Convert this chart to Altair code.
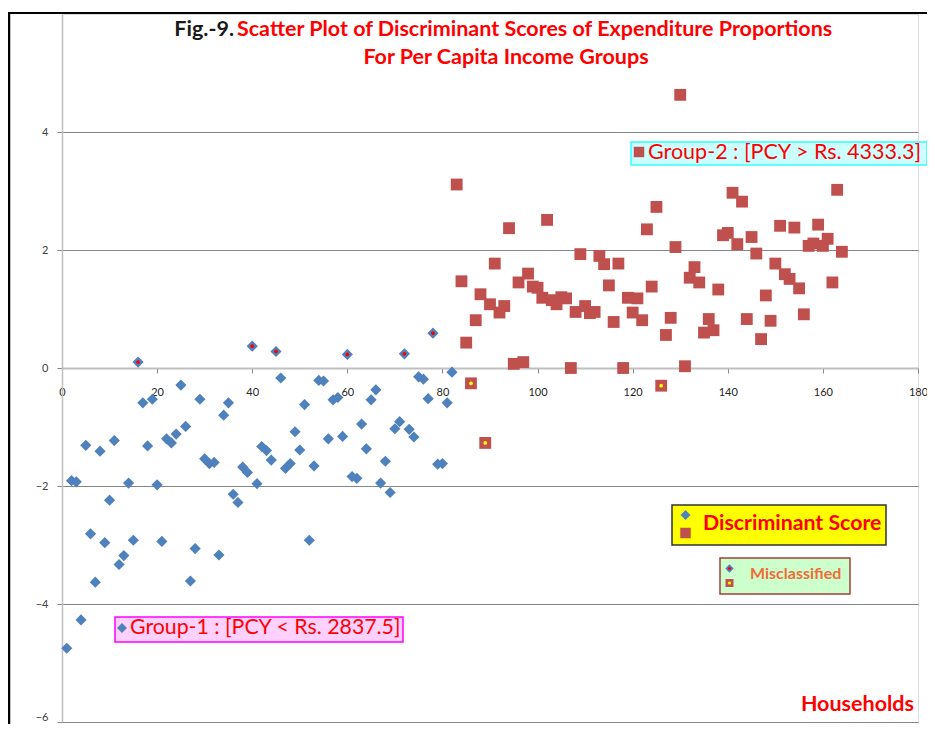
import altair as alt
import pandas as pd

# ---- data ----
g1_x = [1, 2, 3, 4, 5, 6, 7, 8, 9, 10, 11, 12, 13, 14, 15, 16, 17, 18, 19, 20,
        21, 22, 23, 24, 25, 26, 27, 28, 29, 30, 31, 32, 33, 34, 35, 36, 37, 38, 39, 40,
        41, 42, 43, 44, 45, 46, 47, 48, 49, 50, 51, 52, 53, 54, 55, 56, 57, 58, 59, 60,
        61, 62, 63, 64, 65, 66, 67, 68, 69, 70, 71, 72, 73, 74, 75, 76, 77, 78, 79, 80,
        81, 82]
g1_y = [-4.75, -1.91, -1.93, -4.27, -1.31, -2.81, -3.63, -1.41, -2.96, -2.24,
        -1.23, -3.33, -3.18, -1.95, -2.92, 0.10, -0.59, -1.32, -0.53, -1.98,
        -2.94, -1.20, -1.27, -1.12, -0.29, -0.99, -3.61, -3.06, -0.53, -1.54,
        -1.62, -1.60, -3.17, -0.80, -0.59, -2.14, -2.28, -1.68, -1.77, 0.37,
        -1.96, -1.33, -1.40, -1.56, 0.28, -0.17, -1.70, -1.62, -1.08, -1.39,
        -0.62, -2.92, -1.66, -0.21, -0.22, -1.20, -0.54, -0.50, -1.16, 0.23,
        -1.84, -1.87, -0.95, -1.37, -0.54, -0.37, -1.95, -1.58, -2.11, -1.03,
        -0.91, 0.24, -1.04, -1.17, -0.15, -0.19, -0.52, 0.59, -1.63, -1.62,
        -0.59, -0.07]

g2_x = [83, 84, 85, 86, 87, 88, 89, 90, 91, 92, 93, 94, 95, 96, 97, 98, 99, 100,
        101, 102, 103, 104, 105, 106, 107, 108, 109, 110, 111, 112, 113, 114, 115,
        116, 117, 118, 119, 120, 121, 122, 123, 124, 125, 126, 127, 128, 129, 130,
        131, 132, 133, 134, 135, 136, 137, 138, 139, 140, 141, 142, 143, 144, 145,
        146, 147, 148, 149, 150, 151, 152, 153, 154, 155, 156, 157, 158, 159, 160,
        161, 162, 163, 164]
g2_y = [3.11, 1.47, 0.43, -0.26, 0.81, 1.25, -1.27, 1.08, 1.77, 0.94,
        1.05, 2.37, 0.07, 1.45, 0.10, 1.60, 1.38, 1.36, 1.19, 2.51,
        1.15, 1.08, 1.20, 1.18, 0.00, 0.95, 1.93, 1.05, 0.93, 0.95,
        1.90, 1.76, 1.40, 0.78, 1.77, 0.00, 1.19, 0.94, 1.18, 0.81,
        2.35, 1.38, 2.73, -0.30, 0.56, 0.85, 2.05, 4.63, 0.03, 1.53,
        1.71, 1.45, 0.60, 0.83, 0.64, 1.33, 2.25, 2.29, 2.97, 2.10,
        2.82, 0.83, 2.22, 1.94, 0.49, 1.23, 0.80, 1.77, 2.41, 1.59,
        1.51, 2.38, 1.35, 0.91, 2.07, 2.11, 2.43, 2.07, 2.19, 1.45,
        3.02, 1.97]

mis1_x = [16, 40, 45, 60, 72, 78]
mis2_x = [86, 89, 126]

x_ticks = [0, 20, 40, 60, 80, 100, 120, 140, 160, 180]
y_ticks = [-6, -4, -2, 0, 2, 4]

title_fig = "Fig.-9."
title_l1 = "Scatter Plot of Discriminant Scores of Expenditure Proportions"
title_l2 = "For Per Capita Income Groups"
label_g1 = "Group-1 : [PCY < Rs. 2837.5]"
label_g2 = "Group-2 : [PCY > Rs. 4333.3]"
label_ds = "Discriminant Score"
label_mis = "Misclassified"
label_x = "Households"

# ---- tables ----
df1 = pd.DataFrame({"x": g1_x, "y": g1_y})
df2 = pd.DataFrame({"x": g2_x, "y": g2_y})
dm1 = df1[df1["x"].isin(mis1_x)]
dm2 = df2[df2["x"].isin(mis2_x)]
one = pd.DataFrame({"a": [0]})

BLUE = "#4F81BD"
RED = "#C0504D"
FONT = "Lato"

W, H = 856, 708

xenc = alt.X("x:Q", scale=alt.Scale(domain=[0, 180], nice=False, zero=False),
             axis=alt.Axis(values=x_ticks, grid=False, offset=-354, title="",
                           domainColor="#BFBFBF", domainWidth=2, labelFlush=False,
                           tickColor="#868686", tickSize=5, labelPadding=13,
                           labelFont=FONT, labelFontSize=11, labelColor="#262626"))
yenc = alt.Y("y:Q", scale=alt.Scale(domain=[-6, 6], nice=False, zero=False),
             axis=alt.Axis(values=y_ticks, grid=True, gridColor="#868686", gridWidth=1,
                           title="", format="d", labelFlush=True,
                           domainColor="#BFBFBF", domainWidth=1.5,
                           tickColor="#868686", tickSize=5, labelPadding=9,
                           labelFont=FONT, labelFontSize=11, labelColor="#404040"))

pts1 = alt.Chart(df1).mark_point(shape="diamond", filled=True, size=125,
                                 color=BLUE, opacity=1).encode(x=xenc, y=yenc)
pts2 = alt.Chart(df2).mark_square(size=140, color=RED, opacity=1).encode(x="x:Q", y="y:Q")
dot1 = alt.Chart(dm1).mark_circle(size=14, color="#FF0000", opacity=1).encode(x="x:Q", y="y:Q")
dot2 = alt.Chart(dm2).mark_circle(size=14, color="#FFFF00", opacity=1).encode(x="x:Q", y="y:Q")


def box(x1, y1, x2, y2, fill, stroke, sw=1.5):
    return alt.Chart(one).mark_rect(fill=fill, stroke=stroke, strokeWidth=sw).encode(
        x=alt.value(x1), x2=alt.value(x2), y=alt.value(y1), y2=alt.value(y2))


def txt(s, x, y, color, size, weight="normal", align="left"):
    return alt.Chart(one).mark_text(text=s, color=color, fontSize=size, fontWeight=weight,
                                    font=FONT, align=align, baseline="middle").encode(
        x=alt.value(x), y=alt.value(y))


def sym(shape, x, y, color, size):
    return alt.Chart(one).mark_point(shape=shape, filled=True, size=size, color=color,
                                     opacity=1).encode(x=alt.value(x), y=alt.value(y))


# frame lines (left and top border of the original chart area)
frame_top = alt.Chart(one).mark_rule(color="#000000", strokeWidth=2).encode(
    x=alt.value(-54), x2=alt.value(870), y=alt.value(-1))
frame_left = alt.Chart(one).mark_rule(color="#000000", strokeWidth=2.5).encode(
    x=alt.value(-53), y=alt.value(-2), y2=alt.value(716))

annots = [
    txt(title_fig, 172, 16, "#1A1A1A", 21.5, "bold", "right"),
    txt(title_l1, 175, 16, "#FF0000", 21.5, "bold"),
    txt(title_l2, 444, 44, "#FF0000", 21.5, "bold", "center"),
    box(569, 128, 865, 151, "#CCFFFF", "#33FFFF"),
    sym("square", 577, 138, RED, 110),
    txt(label_g2, 586, 139, "#FF0000", 21.5),
    box(53, 603, 341, 628, "#FFD1FF", "#FF00FF"),
    sym("diamond", 60, 614, BLUE, 100),
    txt(label_g1, 68, 614, "#FF0000", 21.3),
    box(610, 491, 824, 531, "#FFFF00", "#333333"),
    sym("diamond", 623.5, 501, BLUE, 100),
    sym("square", 623.5, 519, RED, 110),
    txt(label_ds, 641, 509.5, "#FF0000", 21.3, "bold"),
    box(658, 544, 788, 580, "#CCFFCC", "#A0433B"),
    sym("diamond", 667.5, 554.5, BLUE, 70),
    sym("circle", 667.5, 554.5, "#FF0000", 10),
    sym("square", 667.5, 569, RED, 64),
    sym("circle", 667.5, 569, "#FFFF00", 10),
    txt(label_mis, 688, 559.5, "#F26B38", 16, "bold"),
    txt(label_x, 852, 691, "#FF0000", 21.5, "bold", "right"),
]

chart = alt.layer(pts1, pts2, dot1, dot2, frame_top, frame_left, *annots).properties(
    width=W, height=H,
    autosize=alt.AutoSizeParams(type="none"),
    padding={"left": 54, "top": 6, "right": 9, "bottom": 2},
).configure_view(stroke=None).configure(background="#FFFFFF")

chart.save("out.html", embed_options={"renderer": "svg", "actions": False})
